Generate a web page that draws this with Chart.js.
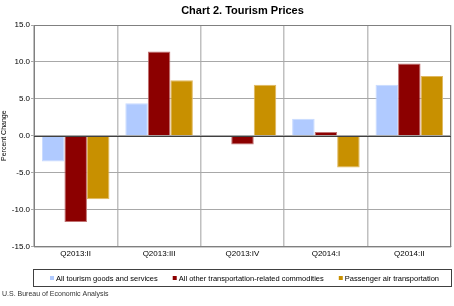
<!DOCTYPE html>
<html><head><meta charset="utf-8">
<script src="https://cdn.jsdelivr.net/npm/chart.js@4"></script>
<style>html,body{margin:0;padding:0;background:#fff;}#wrap{width:454px;height:306px;}</style>
</head><body><div id="wrap"><canvas id="c" width="454" height="306"></canvas></div>
<script>
const categories = ["Q2013:II","Q2013:III","Q2013:IV","Q2014:I","Q2014:II"];
const seriesNames = ["All tourism goods and services","All other transportation-related commodities","Passenger air transportation"];
const tourism = [-3.5, 4.4, -0.2, 2.3, 6.9];
const otherTransport = [-11.7, 11.4, -1.2, 0.5, 9.8];
const airTransport = [-8.6, 7.5, 6.9, -4.3, 8.1];
const yTicks = [-15, -10, -5, 0, 5, 10, 15];
const titleText = 'Chart 2. Tourism Prices';
const footerText = 'U.S. Bureau of Economic Analysis';

const FONT = 'Arial, "Liberation Sans", sans-serif';
const decor = {
  id:'decor',
  afterDraw(chart){
    const {ctx, chartArea:a} = chart;
    ctx.save();
    ctx.strokeStyle = '#808080'; ctx.lineWidth = 1;
    ctx.strokeRect(a.left+0.5, a.top+0.5, a.right-a.left-1, a.bottom-a.top);
    const y0 = Math.round(chart.scales.y.getPixelForValue(0))+0.5;
    ctx.strokeStyle = '#404040';
    ctx.beginPath(); ctx.moveTo(a.left, y0); ctx.lineTo(a.right, y0); ctx.stroke();
    const cx = (a.left + a.right)/2;
    // title
    ctx.fillStyle = '#000'; ctx.font = 'bold 11px ' + FONT;
    ctx.textAlign = 'center'; ctx.textBaseline = 'middle';
    ctx.fillText(titleText, cx, 11);
    // legend
    ctx.strokeStyle = '#404040';
    ctx.strokeRect(a.left-0.5, 269.5, a.right-a.left+1, 17);
    ctx.font = '7.5px ' + FONT; ctx.textAlign='left'; ctx.textBaseline='alphabetic';
    const ds = chart.data.datasets;
    const gapBox = 2, gapItem = 15, box = 4;
    const widths = ds.map(d => box + gapBox + ctx.measureText(d.label).width);
    const total = widths.reduce((s,w)=>s+w,0) + gapItem*(ds.length-1);
    let x = cx - total/2 + 2;
    ds.forEach((d,i)=>{
      ctx.fillStyle = d.backgroundColor;
      ctx.fillRect(x, 276, box, box);
      ctx.fillStyle = '#000';
      ctx.fillText(d.label, x + box + gapBox, 281);
      x += widths[i] + gapItem;
    });
    // footer
    ctx.fillStyle = '#333'; ctx.font = '7px ' + FONT;
    ctx.fillText(footerText, 2, 296);
    ctx.restore();
  }
};

new Chart(document.getElementById('c'), {
  type:'bar',
  data:{
    labels: categories,
    datasets:[
      {label: seriesNames[0], data: tourism, backgroundColor:'#B0CAFF', borderColor:'#C8DAFF', borderWidth:1},
      {label: seriesNames[1], data: otherTransport, backgroundColor:'#8C0000', borderColor:'#C07070', borderWidth:1},
      {label: seriesNames[2], data: airTransport, backgroundColor:'#C89000', borderColor:'#E0B860', borderWidth:1}
    ]
  },
  plugins:[decor],
  options:{
    responsive:false, animation:false, devicePixelRatio:1,
    layout:{padding:{left:0,right:3,top:25,bottom:44}},
    datasets:{bar:{categoryPercentage:0.81, barPercentage:1.0}},
    plugins:{
      title:{display:false},
      legend:{display:false},
      tooltip:{enabled:false}
    },
    scales:{
      x:{
        grid:{color:'#C0C0C0', lineWidth:1.5, offset:true, drawTicks:false},
        border:{display:true, color:'#808080'},
        ticks:{color:'#000', padding:3, font:{family:FONT, size:8}}
      },
      y:{
        min:-15, max:15,
        afterBuildTicks(s){ s.ticks = yTicks.map(v=>({value:v})); },
        afterFit(s){ s.width = 34; },
        grid:{color:'#A8A8A8', drawTicks:true, tickLength:3},
        border:{display:true, color:'#808080'},
        title:{display:true, text:'Percent Change', color:'#000', padding:{top:0,bottom:0},
          font:{family:FONT, size:7}},
        ticks:{color:'#000', padding:1, callback:v=>v.toFixed(1),
          font:{family:FONT, size:8}}
      }
    }
  }
});
</script></body></html>
